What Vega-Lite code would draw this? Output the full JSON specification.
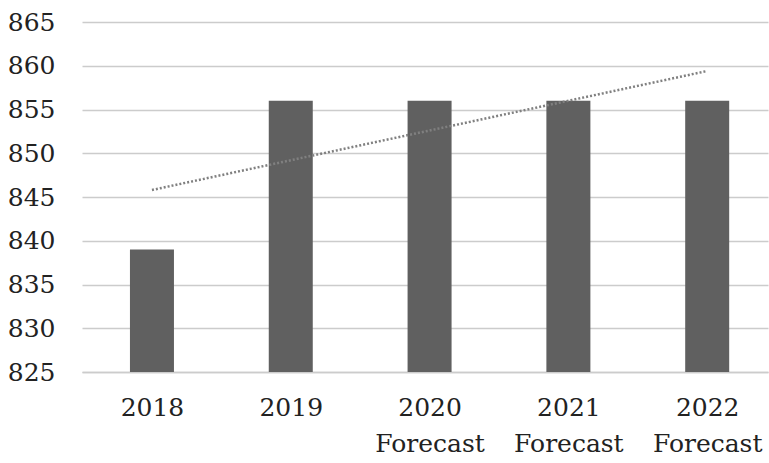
{
  "$schema": "https://vega.github.io/schema/vega-lite/v6.json",
  "width": 686,
  "height": 350,
  "autosize": {"type": "none"},
  "padding": {"left": 82, "top": 22, "right": 1, "bottom": 91},
  "background": "white",
  "config": {
    "view": {"stroke": null},
    "font": "DejaVu Serif"
  },
  "data": {
    "values": [
      {"year": "2018", "value": 839, "trend": 845.8},
      {"year": "2019", "value": 856, "trend": 849.2},
      {"year": "2020 Forecast", "value": 856, "trend": 852.6},
      {"year": "2021 Forecast", "value": 856, "trend": 856.0},
      {"year": "2022 Forecast", "value": 856, "trend": 859.4}
    ]
  },
  "encoding": {
    "x": {
      "field": "year",
      "type": "nominal",
      "sort": null,
      "scale": {"type": "point", "padding": 0.471, "align": 0.535},
      "axis": {
        "title": null,
        "labelAngle": 0,
        "labelExpr": "split(datum.label, ' ')",
        "labelFont": "DejaVu Serif",
        "labelFontSize": 25,
        "labelColor": "#222222",
        "labelLineHeight": 36,
        "labelBaseline": "top",
        "labelPadding": 23,
        "ticks": false,
        "domain": true,
        "domainColor": "#cccccc",
        "domainWidth": 1.5,
        "grid": false
      }
    }
  },
  "layer": [
    {
      "mark": {"type": "bar", "width": 44, "color": "#606060"},
      "encoding": {
        "y": {
          "field": "value",
          "type": "quantitative",
          "scale": {"domain": [825, 865], "zero": false, "nice": false},
          "axis": {
            "title": null,
            "values": [825, 830, 835, 840, 845, 850, 855, 860, 865],
            "labelFont": "DejaVu Serif",
            "labelFontSize": 25,
            "labelColor": "#222222",
            "labelPadding": 27,
            "ticks": false,
            "domain": false,
            "grid": true,
            "gridColor": "#cccccc",
            "gridWidth": 1.5
          }
        },
        "y2": {"datum": 825}
      }
    },
    {
      "mark": {"type": "line", "color": "#808080", "strokeWidth": 2.5, "strokeDash": [2, 2]},
      "encoding": {
        "y": {"field": "trend", "type": "quantitative"}
      }
    }
  ]
}
